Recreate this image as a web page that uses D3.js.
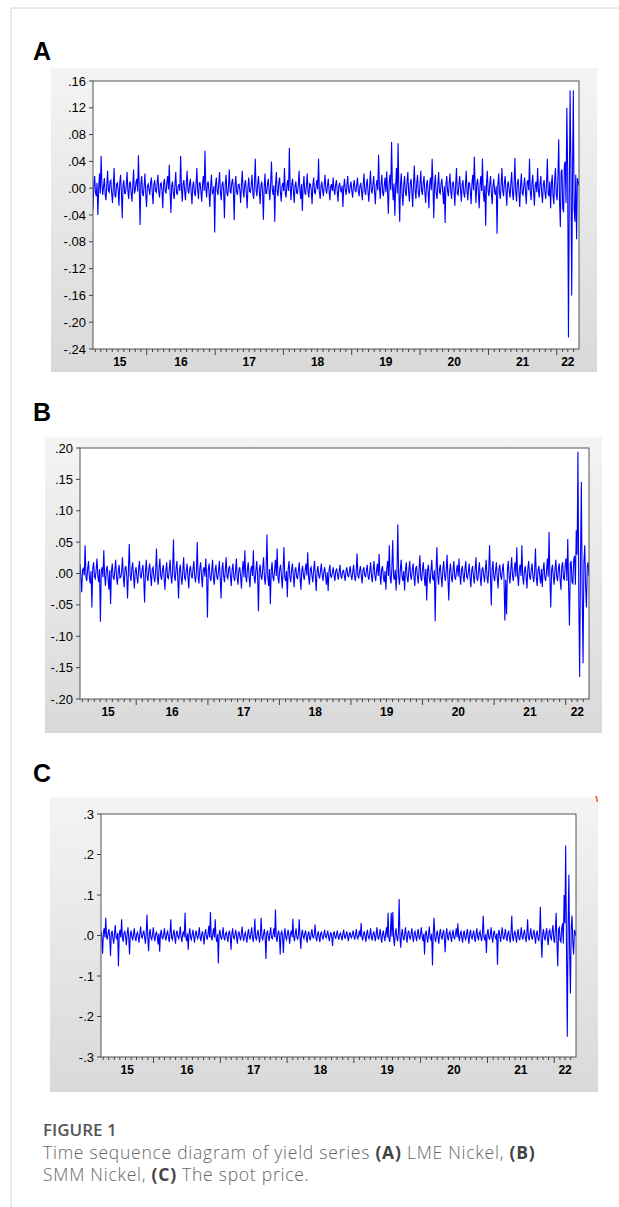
<!DOCTYPE html>
<html>
  <head>
    <meta charset="UTF-8" />
    <style>
      body { margin: 0; background: #fff; }
      svg { display: block; }
      .tick-label { font-family: "Liberation Sans", Arial, sans-serif; font-size: 13px; fill: #000; }
      .year-label { font-weight: bold; font-size: 12px; }
      .panel-label { font-family: "Liberation Sans", Arial, sans-serif; font-size: 25px; font-weight: bold; fill: #000; }
      .caption { font-family: "Open Sans", "Noto Sans", sans-serif; font-size: 17.5px; fill: #666; }
    </style>
  </head>
  <body>
    <svg></svg>
    <script src="https://d3js.org/d3.v7.min.js"></script>
    <script>
      // sample span shared by the three series
      const startDate = new Date(2015, 2, 20);
      const endDate = new Date(2022, 3, 30);

      // (A) LME Nickel returns
      const lmeNickel = [
        -.032, .004, .018, -.006, -.012, .008, -.040, -.002, .022, -.008, .048, .006, -.010, .003, .015, -.009, -.018, .005, .026, -.004, -.006, .010, .012, -.007, -.022, .002, .030, -.010, -.014, .006, .008, -.003, -.026, .009, .020, -.005, -.045, .004, .012, -.008,
        -.008, .005, .024, -.004, -.016, .007, .010, -.006, -.020, .003, .028, -.008, -.004, .009, .014, -.005, .049, .002, -.055, .006, .018, -.007, -.012, .004, .022, -.009, -.028, .003, .006, -.002, -.010, .008, .016, -.006, -.024, .005, .012, -.004, -.006, .007,
        .020, -.005, -.014, .006, .008, -.003, -.030, .007, .014, -.004, -.008, .009, .018, -.002, .035, -.006, -.037, .004, .010, -.008, -.016, .005, .024, -.007, -.010, .003, .006, -.004, .048, .002, -.020, .006, .012, -.005, -.018, .008, .026, -.003, -.008, .006,
        .014, -.006, -.024, .004, .010, -.007, -.012, .005, .030, -.003, -.016, .008, .008, -.005, -.020, .006, .018, -.004, .056, .002, -.014, .007, .010, -.006, -.028, .004, .020, -.008, -.006, .003, -.066, .005, .016, -.004, -.010, .007, .024, -.006, -.018, .005,
        .010, -.004, -.045, .006, .020, -.007, -.012, .003, .028, -.005, -.008, .008, .014, -.002, -.048, .004, .018, -.006, -.010, .005, .006, -.003, -.022, .007, .026, -.004, -.014, .006, .012, -.008, -.030, .003, .016, -.005, -.006, .004, .020, -.007, -.016, .006,
        .044, -.003, -.012, .006, .018, -.005, -.024, .004, .010, -.006, -.047, .002, .022, -.008, -.008, .005, .014, -.004, -.018, .007, .040, -.003, -.010, .004, -.050, .006, .024, -.005, -.012, .008, .016, -.006, -.020, .003, .008, -.004, .030, -.007, -.014, .005,
        .012, -.004, .060, .003, -.018, .006, .014, -.005, -.022, .004, .010, -.007, -.008, .005, .026, -.003, -.016, .006, -.034, .002, .018, -.006, -.010, .004, .022, -.005, -.014, .007, .006, -.003, -.024, .005, .016, -.006, -.008, .004, .012, -.002, .044, -.005,
        -.016, .003, .010, -.004, -.012, .005, .020, -.002, -.008, .004, .014, -.005, -.018, .003, .006, -.004, .016, -.003, -.010, .005, .012, -.004, -.020, .003, .008, -.002, -.006, .004, -.028, .002, .014, -.003, -.010, .005, .018, -.004, -.008, .003, .010, -.005,
        -.014, .004, .012, -.003, -.006, .005, .016, -.004, -.012, .003, .008, -.005, -.018, .006, .022, -.004, -.010, .005, .014, -.006, -.020, .004, .026, -.003, -.008, .006, .018, -.005, -.024, .004, .012, -.003, .050, .002, -.016, .006, .020, -.007, -.012, .005,
        .016, -.006, .025, -.004, -.038, .008, .020, -.003, .069, .004, -.018, .007, -.041, .002, .030, -.008, .067, -.005, -.050, .006, .022, -.009, -.026, .004, .018, -.006, -.012, .008, .024, -.005, -.020, .007, .014, -.004, -.028, .006, .034, -.003, -.016, .008,
        .020, -.007, -.014, .005, .026, -.004, -.010, .008, .018, -.006, -.022, .004, .012, -.005, -.030, .007, .016, -.003, .044, .005, -.045, .006, .020, -.008, -.016, .004, .024, -.006, -.008, .007, .014, -.005, -.024, .003, -.052, .006, .018, -.004, -.012, .007,
        .022, -.005, -.016, .007, .010, -.004, -.026, .006, .030, -.008, -.010, .005, .018, -.003, -.020, .006, .012, -.007, -.014, .004, .026, -.005, -.018, .008, .008, -.004, -.024, .006, .020, -.003, .047, .004, -.022, .007, .014, -.006, -.030, .005, .018, -.004,
        .044, -.006, -.020, .004, -.056, .007, .026, -.005, -.012, .006, .018, -.008, -.024, .004, .014, -.006, -.010, .003, -.068, .005, .022, -.007, -.016, .006, .030, -.004, -.012, .008, .018, -.005, -.026, .006, .010, -.004, -.014, .007, .024, -.006, -.018, .005,
        .045, -.004, -.020, .007, .014, -.006, -.028, .005, .022, -.008, -.010, .004, .016, -.005, -.024, .008, .012, -.003, .044, -.006, -.018, .007, .020, -.005, -.026, .004, .010, -.006, .030, -.003, -.014, .007, .018, -.008, -.022, .005, .012, -.006, -.016, .008,
        .044, -.008, -.012, .010, -.030, .006, .020, -.012, -.024, .014, .030, -.010, -.018, .016, .073, -.020, -.058, .024, .028, -.030, -.036, .034, .040, -.022, .120, .030, -.223, -.020, .146, .040, -.160, .020, .146, -.030, -.050, .020, -.076, .015, .010, .004
      ];

      // (B) SMM Nickel returns
      const smmNickel = [
        .015, -.004, -.030, .006, .008, -.003, .045, -.005, -.012, .007, .020, -.006, -.016, .004, -.054, .008, .018, -.005, -.008, .006, .024, -.004, -.014, .007, -.077, .003, .010, -.006, .037, -.004, -.020, .006, .012, -.007, -.026, .005, -.049, .004, .016, -.006,
        -.010, .005, .022, -.006, -.018, .004, .014, -.007, -.006, .003, .026, -.005, -.022, .008, .012, -.004, -.040, .006, .047, -.003, -.012, .007, .018, -.005, -.024, .004, .010, -.006, -.016, .008, .020, -.004, -.008, .005, .014, -.007, -.046, .003, .022, -.005,
        -.012, .006, .016, -.004, -.020, .007, .010, -.005, -.014, .003, .040, -.006, -.018, .008, .024, -.004, -.010, .005, .014, -.007, -.026, .004, .018, -.006, -.008, .005, .022, -.003, -.016, .006, .054, -.004, -.012, .007, .020, -.005, -.040, .004, .014, -.006,
        -.018, .005, .026, -.007, -.010, .004, .016, -.005, -.024, .006, .012, -.003, -.008, .007, .020, -.006, -.014, .004, .050, -.005, -.016, .008, .018, -.004, -.022, .006, .010, -.005, .024, -.003, -.070, .007, .016, -.006, -.012, .004, .022, -.008, -.018, .005,
        .014, -.006, -.010, .004, .020, -.007, -.040, .005, .018, -.003, -.014, .006, .026, -.005, -.008, .007, .012, -.004, -.020, .006, .016, -.005, -.012, .003, .024, -.007, -.018, .006, .010, -.004, -.024, .005, .020, -.006, .037, -.003, -.014, .007, .018, -.005,
        -.022, .006, .012, -.004, .037, -.007, -.016, .005, .020, -.003, -.060, .006, .014, -.005, -.010, .008, .026, -.006, -.018, .004, .062, -.005, -.020, .007, -.049, .003, .018, -.006, -.012, .005, .022, -.004, .040, -.007, -.016, .006, .014, -.003, -.024, .005,
        .042, -.006, -.012, .004, -.038, .007, .020, -.005, -.014, .006, .016, -.003, -.022, .005, .010, -.006, -.008, .004, .018, -.007, -.026, .005, .012, -.004, -.010, .006, .016, -.003, .034, -.005, -.018, .007, .010, -.004, -.014, .006, .020, -.005, -.028, .004,
        .012, -.003, -.008, .004, .016, -.002, -.012, .003, .010, -.004, -.018, .002, -.028, .003, .014, -.004, -.006, .002, .010, -.003, -.012, .004, .008, -.002, -.010, .003, .014, -.004, -.008, .002, .006, -.003, -.012, .004, .010, -.002, -.006, .003, .012, -.004,
        -.010, .003, .014, -.004, -.012, .002, .032, -.003, -.008, .004, .012, -.003, -.016, .005, .010, -.002, -.006, .004, .014, -.005, -.010, .003, .018, -.004, -.014, .006, .020, -.003, -.012, .005, .016, -.004, .031, -.002, -.018, .006, .012, -.005, -.014, .004,
        -.026, .006, .020, -.004, .045, -.007, -.016, .008, .053, -.005, -.010, .006, -.027, .004, .078, -.006, -.018, .007, .022, -.005, -.012, .004, -.027, .006, .018, -.007, -.014, .005, .020, -.004, -.010, .006, .016, -.005, -.020, .007, .012, -.004, -.016, .006,
        .029, -.005, -.012, .006, .018, -.004, -.020, .007, -.043, .005, .014, -.006, -.016, .004, .022, -.008, -.010, .005, -.076, .006, .042, -.004, -.018, .007, .014, -.005, -.022, .006, .020, -.003, -.012, .005, .030, -.007, -.043, .004, .016, -.006, -.014, .005,
        .020, -.006, -.010, .004, .014, -.005, .024, -.003, -.018, .006, .012, -.004, -.014, .007, .020, -.005, -.008, .003, .016, -.006, -.022, .005, .012, -.004, -.016, .006, .026, -.007, -.012, .004, .018, -.005, -.020, .006, .010, -.003, -.014, .005, .022, -.006,
        -.016, .005, .045, -.004, -.051, .007, .020, -.006, -.012, .004, .018, -.005, -.024, .006, .014, -.003, -.010, .005, .016, -.008, -.075, -.010, -.065, .006, .020, -.005, -.016, .007, .026, -.004, -.012, .006, .018, -.005, .042, -.003, -.020, .006, .014, -.004,
        .045, -.006, -.018, .004, .012, -.005, -.024, .007, .020, -.004, -.010, .006, .016, -.005, -.014, .003, .040, -.006, -.020, .005, .012, -.004, -.016, .007, -.022, .005, .018, -.006, -.012, .004, .024, -.005, .066, -.008, -.054, .006, .014, -.005, -.018, .007,
        .022, -.006, -.012, .008, .016, -.010, -.026, .012, .018, -.008, -.010, .014, .024, -.012, .055, -.020, -.083, .016, .020, -.014, -.016, .022, .028, -.018, .069, .030, .194, -.040, -.165, .020, .146, -.030, -.143, .018, .045, -.020, -.054, .012, .018, -.004
      ];

      // (C) spot price returns
      const spotPrice = [
        .010, -.004, -.045, .006, .018, -.005, .044, -.003, -.010, .007, .016, -.004, -.050, .005, .012, -.006, -.020, .004, .026, -.005, -.008, .006, -.076, .003, .014, -.005, .040, -.004, -.016, .006, .010, -.003, -.024, .005, .020, -.006, -.047, .004, .012, -.005,
        -.010, .004, .018, -.005, -.014, .003, .008, -.004, -.018, .006, .022, -.003, -.006, .005, .012, -.004, -.020, .006, .052, -.005, -.039, .004, .016, -.006, -.010, .003, .020, -.005, -.014, .004, .008, -.003, -.022, .005, -.040, .004, .014, -.005, -.008, .003,
        .018, -.004, -.012, .005, .010, -.003, -.016, .004, .040, -.005, -.010, .003, .014, -.004, -.020, .006, .012, -.003, -.008, .004, .022, -.005, -.016, .003, .010, -.004, .056, -.003, -.014, .005, -.035, .004, .018, -.005, -.010, .003, .014, -.004, -.018, .005,
        .012, -.003, -.008, .004, .020, -.005, -.014, .003, .010, -.004, -.022, .005, .016, -.003, -.010, .004, .024, -.005, .058, -.003, -.012, .004, .018, -.005, .040, -.004, -.016, .003, -.069, .005, .014, -.004, -.010, .003, .020, -.005, -.012, .004, .008, -.003,
        -.016, .004, .012, -.003, -.035, .005, .018, -.004, -.008, .003, .014, -.005, -.020, .004, .010, -.003, -.012, .005, .022, -.004, -.014, .003, .008, -.005, -.018, .004, .016, -.003, -.010, .005, .020, -.004, -.016, .003, .041, -.005, -.012, .004, .014, -.003,
        -.018, .004, .044, -.005, -.010, .003, .016, -.004, -.058, .005, .012, -.003, -.014, .004, .020, -.005, -.008, .003, .018, -.004, .064, -.005, -.016, .004, .012, -.003, -.047, .005, .010, -.004, -.043, .003, .018, -.005, -.010, .004, .014, -.003, -.020, .005,
        .012, -.004, .041, -.003, -.014, .005, .018, -.004, -.010, .003, .040, -.005, -.033, .004, .014, -.003, -.008, .005, .012, -.004, -.018, .003, .010, -.005, -.012, .004, .016, -.003, -.006, .004, .027, -.005, -.014, .003, .010, -.004, -.016, .005, .008, -.003,
        -.010, .003, .014, -.002, -.006, .003, .012, -.004, -.014, .002, .008, -.003, -.026, .004, .010, -.002, -.008, .003, .012, -.004, -.010, .002, .006, -.003, -.012, .004, .014, -.002, -.008, .003, .010, -.004, -.014, .002, .008, -.003, -.006, .004, .012, -.002,
        -.010, .003, .016, -.004, -.008, .002, .012, -.003, .031, -.004, -.012, .003, .010, -.002, -.016, .004, .014, -.003, -.008, .002, .018, -.004, -.012, .003, .010, -.002, -.014, .004, .020, -.003, -.010, .002, .016, -.004, -.018, .003, .012, -.002, -.014, .004,
        .020, -.005, .056, -.006, -.016, .004, .056, -.003, .058, -.006, -.026, .005, .018, -.004, -.014, .006, .090, -.005, -.030, .004, .016, -.006, -.012, .005, .020, -.004, -.018, .006, .012, -.003, -.010, .005, .018, -.004, -.016, .006, .010, -.003, -.014, .005,
        .016, -.004, -.010, .005, .020, -.003, -.014, .004, -.047, .005, .012, -.004, -.018, .003, .022, -.005, -.010, .004, -.074, .006, .044, -.005, -.016, .003, .012, -.004, -.020, .005, .016, -.003, -.010, .004, .014, -.005, -.041, .003, .018, -.004, -.012, .005,
        .010, -.003, -.016, .004, .014, -.005, -.008, .003, .018, -.004, .030, -.003, -.014, .005, .010, -.004, -.018, .003, .012, -.005, -.010, .004, .016, -.003, -.020, .005, .014, -.004, -.008, .003, .012, -.005, -.016, .004, .018, -.003, -.012, .005, .010, -.004,
        -.014, .004, .049, -.005, -.012, .003, -.043, .005, .016, -.004, -.010, .003, .020, -.005, -.018, .004, .012, -.003, -.008, .005, -.072, .004, .014, -.003, -.016, .005, .020, -.004, -.010, .003, .016, -.005, -.014, .004, .012, -.003, -.018, .005, .049, -.004,
        -.014, .005, .010, -.003, -.018, .004, .016, -.005, -.012, .003, .020, -.004, -.010, .005, .014, -.003, -.016, .004, .040, -.005, -.012, .003, .018, -.004, -.010, .005, .014, -.003, -.020, .004, .012, -.005, -.014, .003, .071, -.006, -.055, .005, .016, -.004,
        -.012, .006, .018, -.008, -.024, .010, .014, -.006, -.010, .012, .026, -.010, -.018, .014, .056, -.020, -.076, .016, .020, -.012, -.016, .018, .030, -.020, .100, .030, .222, -.030, -.250, .020, .150, -.040, -.143, .020, .049, -.018, -.047, .012, .010, -.002
      ];

      // y tick values per panel
      const lmeTicks = [-.24, -.20, -.16, -.12, -.08, -.04, 0, .04, .08, .12, .16];
      const smmTicks = [-.20, -.15, -.10, -.05, 0, .05, .10, .15, .20];
      const spotTicks = [-.3, -.2, -.1, 0, .1, .2, .3];

      const captionParts = [
        ["Time sequence diagram of yield series ", false],
        ["(A)", true],
        [" LME Nickel, ", false],
        ["(B)", true]
      ];
      const captionParts2 = [
        ["SMM Nickel, ", false],
        ["(C)", true],
        [" The spot price.", false]
      ];

      const width = 619, height = 1207;
      const svg = d3.select("svg").attr("width", width).attr("height", height);

      const defs = svg.append("defs");
      const grad = defs.append("linearGradient").attr("id", "panelbg")
        .attr("x1", 0).attr("y1", 0).attr("x2", 0).attr("y2", 1);
      grad.append("stop").attr("offset", "0%").attr("stop-color", "#f4f4f4");
      grad.append("stop").attr("offset", "100%").attr("stop-color", "#d9d9d9");

      // page frame lines
      svg.append("line").attr("x1", 11).attr("x2", 11).attr("y1", 8).attr("y2", height)
        .attr("stroke", "#d6d6d6");
      svg.append("line").attr("x1", 11).attr("x2", width).attr("y1", 8).attr("y2", 8)
        .attr("stroke", "#d6d6d6");

      const panels = [
        { label: "A", labelY: 60, values: lmeNickel, ticks: lmeTicks, fmt: ".2f",
          box: [51, 68, 597, 372], plot: [93, 81, 579, 349] },
        { label: "B", labelY: 421, values: smmNickel, ticks: smmTicks, fmt: ".2f",
          box: [45, 437, 602, 733], plot: [80, 448, 589, 699] },
        { label: "C", labelY: 782, values: spotPrice, ticks: spotTicks, fmt: ".1f",
          box: [50, 797, 598, 1092], plot: [101, 814, 576, 1057] }
      ];

      panels.forEach((p, k) => {
        const [bx0, by0, bx1, by1] = p.box;
        const [px0, py0, px1, py1] = p.plot;

        svg.append("text").attr("class", "panel-label")
          .attr("x", 33).attr("y", p.labelY).text(p.label);

        svg.append("rect").attr("x", bx0).attr("y", by0)
          .attr("width", bx1 - bx0).attr("height", by1 - by0)
          .attr("fill", "url(#panelbg)");

        svg.append("rect").attr("x", px0).attr("y", py0)
          .attr("width", px1 - px0).attr("height", py1 - py0)
          .attr("fill", "#fff");

        const x = d3.scaleTime().domain([startDate, endDate]).range([px0, px1]);
        const y = d3.scaleLinear().domain(d3.extent(p.ticks)).range([py1, py0]);

        const n = p.values.length;
        const dates = d3.range(n).map(i => new Date(+startDate + i * (endDate - startDate) / (n - 1)));

        const clipId = "clip" + k;
        defs.append("clipPath").attr("id", clipId).append("rect")
          .attr("x", px0).attr("y", py0).attr("width", px1 - px0).attr("height", py1 - py0);

        const line = d3.line().x((d, i) => x(dates[i])).y(d => y(d));
        svg.append("path").datum(p.values)
          .attr("clip-path", "url(#" + clipId + ")")
          .attr("d", line)
          .attr("fill", "none")
          .attr("stroke", "#0000ff")
          .attr("stroke-width", 1.1);

        // frame
        svg.append("rect").attr("x", px0).attr("y", py0)
          .attr("width", px1 - px0).attr("height", py1 - py0)
          .attr("fill", "none").attr("stroke", "#555").attr("stroke-width", 1);

        // y axis
        const fmt = d3.format(p.fmt);
        const yAxis = svg.append("g");
        yAxis.selectAll("line").data(p.ticks).join("line")
          .attr("x1", px0 - 4).attr("x2", px0)
          .attr("y1", d => y(d)).attr("y2", d => y(d))
          .attr("stroke", "#444");
        yAxis.selectAll("text").data(p.ticks).join("text")
          .attr("class", "tick-label")
          .attr("x", px0 - 7).attr("y", d => y(d) + 4.5)
          .attr("text-anchor", "end")
          .text(d => fmt(d).replace("\u2212", "-").replace("0.", "."));

        // x axis: monthly minor ticks, yearly major ticks
        const months = d3.timeMonth.range(d3.timeMonth.ceil(startDate), endDate);
        svg.append("g").selectAll("line").data(months).join("line")
          .attr("x1", d => x(d)).attr("x2", d => x(d))
          .attr("y1", py1).attr("y2", d => py1 + (d.getMonth() === 0 ? 6 : 3))
          .attr("stroke", "#444");

        const years = d3.range(startDate.getFullYear(), endDate.getFullYear() + 1);
        svg.append("g").selectAll("text").data(years).join("text")
          .attr("class", "tick-label year-label")
          .attr("x", yr => {
            const a = d3.max([startDate, new Date(yr, 0, 1)]);
            const b = d3.min([endDate, new Date(yr + 1, 0, 1)]);
            return (x(a) + x(b)) / 2;
          })
          .attr("y", py1 + 17)
          .attr("text-anchor", "middle")
          .text(yr => String(yr).slice(2));

        if (p.label === "C") {
          // small orange stroke at the top-right corner of the panel
          svg.append("line").attr("x1", bx1 - 2).attr("y1", by0 - 1)
            .attr("x2", bx1 - 0.5).attr("y2", by0 + 5)
            .attr("stroke", "#ff5a1f").attr("stroke-width", 1.5);
        }
      });

      // caption
      svg.append("text").attr("class", "caption")
        .attr("x", 43).attr("y", 1136)
        .style("font-weight", 600).style("fill", "#555").style("font-size", "17px")
        .text("FIGURE 1");

      const cap1 = svg.append("text").attr("class", "caption").attr("x", 43).attr("y", 1159)
        .style("letter-spacing", "0.75px");
      captionParts.forEach(([t, b]) => {
        cap1.append("tspan").text(t)
          .style("font-weight", b ? 700 : 300).style("fill", b ? "#444" : "#666");
      });
      const cap2 = svg.append("text").attr("class", "caption").attr("x", 43).attr("y", 1181)
        .style("letter-spacing", "0.75px");
      captionParts2.forEach(([t, b]) => {
        cap2.append("tspan").text(t)
          .style("font-weight", b ? 700 : 300).style("fill", b ? "#444" : "#666");
      });
    </script>
  </body>
</html>
